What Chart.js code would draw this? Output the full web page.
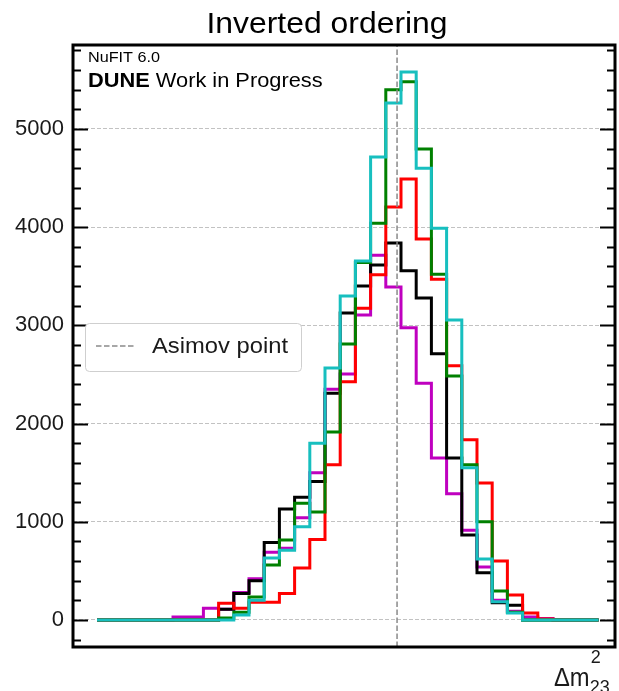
<!DOCTYPE html>
<html>
<head>
<meta charset="utf-8">
<script src="https://cdn.jsdelivr.net/npm/chart.js@4"></script>
<style>
  html, body { margin: 0; padding: 0; background: #fff; }
</style>
</head>
<body>
<canvas id="chart" width="619" height="691"></canvas>
<script>
// counts per bin, 33 equal bins of Δm²23 (bin index as x)
const countsBlack   = [0, 0, 0, 0, 0, 0, 0, 0, 110, 270, 400, 790, 1130, 1250, 1410, 2310, 3125, 3400, 3615, 3840, 3555, 3280, 2710, 1650, 865, 480, 175, 150, 0, 0, 0, 0, 0];
const countsMagenta = [0, 0, 0, 0, 0, 30, 30, 120, 110, 280, 420, 690, 730, 1040, 1500, 2350, 2505, 3105, 3715, 3390, 2975, 2410, 1650, 1285, 915, 540, 200, 90, 30, 15, 0, 0, 0];
const countsRed     = [0, 0, 0, 0, 0, 0, 0, 0, 170, 120, 180, 180, 270, 530, 820, 1580, 2425, 3175, 3515, 4205, 4490, 3880, 3470, 2590, 1835, 1395, 600, 255, 70, 10, 0, 0, 0];
const countsGreen   = [0, 0, 0, 0, 0, 0, 0, 0, 20, 80, 235, 560, 815, 1190, 1100, 1915, 2810, 3640, 4040, 5400, 5480, 4795, 3520, 2485, 1580, 1000, 295, 80, 0, 0, 0, 0, 0];
const countsCyan    = [0, 0, 0, 0, 0, 0, 0, 0, 0, 50, 200, 630, 710, 950, 1800, 2565, 3300, 3655, 4715, 5265, 5580, 4600, 3990, 3055, 1550, 620, 185, 70, 0, 0, 0, 0, 0];

const yTicks = [0, 1000, 2000, 3000, 4000, 5000];
const asimovPoint = 19.74;   // true value, in bin units

const xMin = -1.58, xMax = 34.08;
const yMin = -275, yMax = 5855;

// step outline: each bin value holds from its left edge to the next edge
function stepPoints(counts) {
    const pts = counts.map((v, i) => ({ x: i, y: v }));
    pts.push({ x: counts.length, y: 0 });
    return pts;
}

function histDataset(counts, color) {
    return {
        data: stepPoints(counts),
        borderColor: color,
        borderWidth: 3,
        stepped: 'before',
        pointRadius: 0,
        fill: false,
        borderJoinStyle: 'miter',
        borderCapStyle: 'butt',
    };
}

function stretchedText(ctx, text, x, y, font, sx, align) {
    ctx.save();
    ctx.font = font;
    ctx.translate(x, y);
    ctx.scale(sx, 1);
    ctx.textAlign = align || 'left';
    ctx.textBaseline = 'alphabetic';
    ctx.fillText(text, 0, 0);
    const w = ctx.measureText(text).width * sx;
    ctx.restore();
    return w;
}

// frame, inward ticks, legend and labels
const decorations = {
    id: 'decorations',
    afterDraw(chart) {
        const ctx = chart.ctx;
        const { left, right, top, bottom } = chart.chartArea;
        const ys = chart.scales.y;

        ctx.save();
        ctx.strokeStyle = '#000';
        ctx.lineWidth = 2;
        for (let v = -200; v <= 5800; v += 200) {
            const py = Math.round(ys.getPixelForValue(v)) + 0.5;
            const len = v % 1000 === 0 ? 15 : 8;
            ctx.beginPath();
            ctx.moveTo(left, py); ctx.lineTo(left + len, py);
            ctx.moveTo(right, py); ctx.lineTo(right - len, py);
            ctx.stroke();
        }
        ctx.lineWidth = 3;
        ctx.strokeRect(left, top, right - left, bottom - top);
        ctx.restore();

        // legend box
        const asimov = chart.data.datasets[0];
        ctx.save();
        ctx.fillStyle = '#fff';
        ctx.strokeStyle = '#cfcfcf';
        ctx.lineWidth = 1;
        ctx.beginPath();
        ctx.roundRect(85.5, 323.5, 216, 48, 4);
        ctx.fill();
        ctx.stroke();
        ctx.strokeStyle = asimov.borderColor;
        ctx.lineWidth = asimov.borderWidth;
        ctx.setLineDash(asimov.borderDash);
        ctx.beginPath();
        ctx.moveTo(96, 346); ctx.lineTo(134, 346);
        ctx.stroke();
        ctx.setLineDash([]);
        ctx.fillStyle = '#1a1a1a';
        stretchedText(ctx, asimov.label, 152, 353, '22px "Liberation Sans"', 1.08);

        // title and labels
        ctx.fillStyle = '#000';
        stretchedText(ctx, 'Inverted ordering', 327, 33, '29px "Liberation Sans"', 1.1, 'center');
        stretchedText(ctx, 'NuFIT 6.0', 88, 62, '15px "Liberation Sans"', 1.08);
        const w = stretchedText(ctx, 'DUNE', 88, 87, 'bold 20px "Liberation Sans"', 1.09);
        stretchedText(ctx, ' Work in Progress', 88 + w, 87, '20px "Liberation Sans"', 1.09);

        // axis label Δm²₂₃
        ctx.fillStyle = '#1a1a1a';
        const wd = stretchedText(ctx, 'Δm', 554, 686, '25px "Liberation Sans"', 0.95);
        stretchedText(ctx, '2', 554 + wd + 1, 663, '18px "Liberation Sans"', 1.0);
        stretchedText(ctx, '23', 554 + wd, 693, '18px "Liberation Sans"', 1.0);
        ctx.restore();
    }
};

new Chart(document.getElementById('chart'), {
    type: 'line',
    data: {
        datasets: [
            {
                label: 'Asimov point',
                data: [{ x: asimovPoint, y: yMin }, { x: asimovPoint, y: yMax }],
                borderColor: '#8a8a8a',
                borderWidth: 1.5,
                borderDash: [5.5, 2.5],
                pointRadius: 0,
                fill: false,
            },
            histDataset(countsCyan, '#17bfbf'),
            histDataset(countsGreen, '#008000'),
            histDataset(countsRed, '#ff0000'),
            histDataset(countsBlack, '#000000'),
            histDataset(countsMagenta, '#bf00bf'),
        ],
    },
    options: {
        responsive: false,
        animation: false,
        layout: { padding: { left: 0, top: 45, right: 4, bottom: 44 } },
        plugins: {
            legend: { display: false },
            title: { display: false },
            tooltip: { enabled: false },
        },
        scales: {
            x: { type: 'linear', display: false, min: xMin, max: xMax },
            y: {
                min: yMin,
                max: yMax,
                afterFit: (scale) => { scale.width = 73; },
                afterBuildTicks: (scale) => { scale.ticks = yTicks.map(v => ({ value: v })); },
                grid: { color: '#c2c2c2', lineWidth: 1, drawTicks: false },
                border: { display: false, dash: [4, 2] },
                ticks: {
                    padding: 9,
                    color: '#1a1a1a',
                    font: { family: 'Liberation Sans', size: 22 },
                    callback: (v) => String(v),
                },
            },
        },
    },
    plugins: [decorations],
});
</script>
</body>
</html>
